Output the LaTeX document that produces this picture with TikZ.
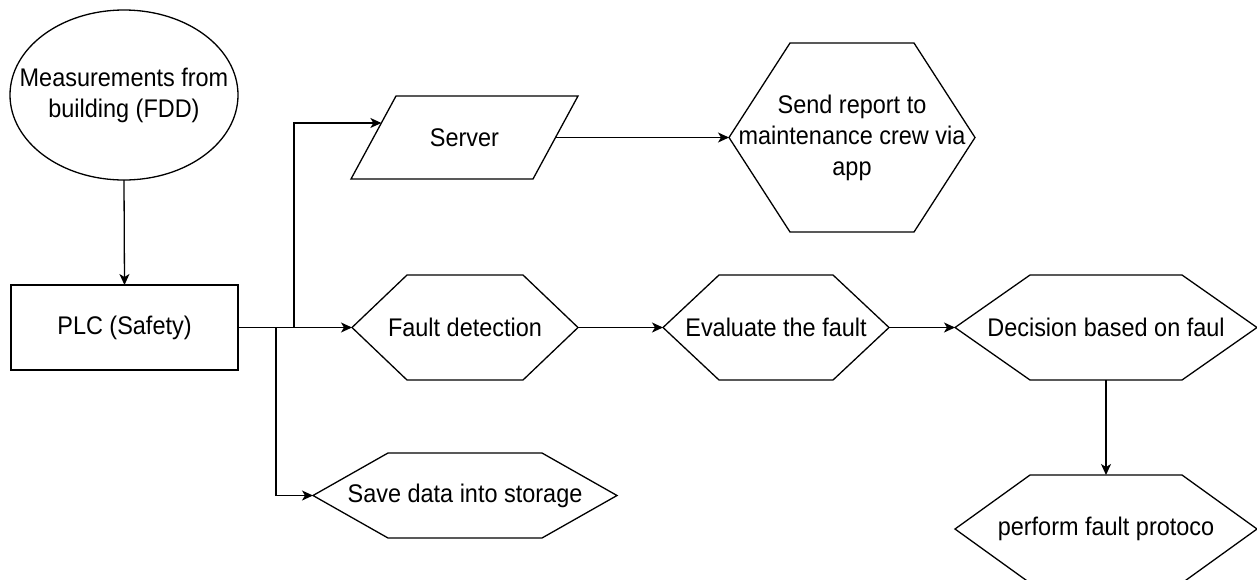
\documentclass[tikz,border=0pt]{standalone}
\usepackage{fontspec}
\setmainfont[FakeStretch=0.92]{Liberation Sans}
\usetikzlibrary{shapes.geometric,arrows.meta,calc}
\tikzset{
  ln/.style={line width=1.3pt, draw=black, line join=miter},
  arr/.style={ln, -{Stealth[length=11pt,width=10pt,inset=3pt]}},
  box/.style={inner sep=0pt, outer sep=0pt, align=center, font=\fontsize{25.5}{31}\selectfont},
  ellbox/.style={box, ellipse, ln},
  rectbox/.style={box, rectangle, ln},
  plainbox/.style={box, rectangle, draw=none},
}
\newcommand{\hexfor}[2]{\draw[ln] (#1.west) -- ([xshift=#2]#1.north west) -- ([xshift=-#2]#1.north east) -- (#1.east) -- ([xshift=-#2]#1.south east) -- ([xshift=#2]#1.south west) -- cycle;}
\newcommand{\parafor}[2]{\draw[ln] (#1.south west) -- ([xshift=#2]#1.north west) -- (#1.north east) -- ([xshift=-#2]#1.south east) -- cycle;}
\begin{document}
\begin{tikzpicture}[x=1pt,y=-1pt]
\useasboundingbox (0,0) rectangle (1257,579);
% nodes
\node[ellbox, minimum width=228pt, minimum height=170pt] (meas) at (124,95) {};
\node[plainbox] (meastext) at (meas.center) {Measurements from\\building (FDD)};
\node[rectbox, minimum width=227pt, minimum height=85pt] (plc) at (124.5,327.5) {PLC (Safety)};
\node[plainbox, minimum width=227pt, minimum height=83pt] (server) at (464.5,137.5) {Server};
\node[plainbox, minimum width=246pt, minimum height=189pt] (report) at (852,137.5) {Send report to\\maintenance crew via\\app};
\node[plainbox, minimum width=226pt, minimum height=105pt] (fault) at (465,327.5) {Fault detection};
\node[plainbox, minimum width=226pt, minimum height=105pt] (eval) at (776,327.5) {Evaluate the fault};
\node[plainbox, minimum width=302pt, minimum height=105pt] (decision) at (1106,327.5) {Decision based on faul};
\node[plainbox, minimum width=304pt, minimum height=85pt] (save) at (465,495.5) {Save data into storage};
\node[plainbox, minimum width=302pt, minimum height=108pt] (perform) at (1106,529) {perform fault protoco};
% shapes
\parafor{server}{45pt}
\hexfor{report}{61pt}
\hexfor{fault}{55pt}
\hexfor{eval}{56pt}
\hexfor{decision}{75pt}
\hexfor{save}{75pt}
\hexfor{perform}{75pt}
% junction coordinates
\coordinate (jup) at (294,327.5);
\coordinate (jdown) at (276,327.5);
\coordinate (srvin) at ($(server.south west)!0.675!([xshift=45pt]server.north west)$);
\coordinate (srvout) at ($([xshift=-45pt]server.south east)!0.5!(server.north east)$);
% connectors
\draw[arr] (meas.south) -- (plc.north);
\draw[arr] (plc.east) -- (fault.west);
\draw[arr] (jup) |- (srvin);
\draw[arr] (jdown) |- (save.west);
\draw[arr] (srvout) -- (report.west);
\draw[arr] (fault.east) -- (eval.west);
\draw[arr] (eval.east) -- (decision.west);
\draw[arr] (decision.south) -- (perform.north);
\end{tikzpicture}
\end{document}
